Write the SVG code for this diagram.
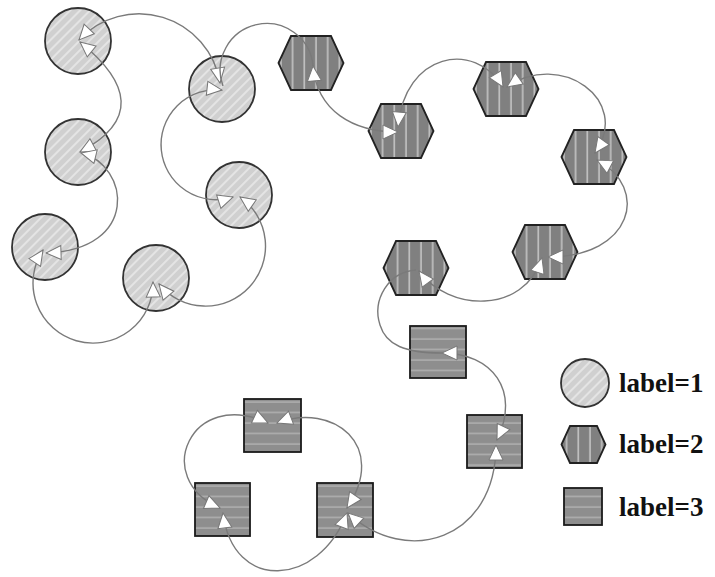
<svg xmlns="http://www.w3.org/2000/svg" width="715" height="577" viewBox="0 0 715 577">
<style>
.c{fill:url(#hatch);stroke:#333;stroke-width:1.8}
.h{fill:url(#vstripe);stroke:#222;stroke-width:1.8}
.s{fill:url(#hstripe);stroke:#1a1a1a;stroke-width:1.8}
.e{fill:none;stroke:#7a7a7a;stroke-width:1.4}
.ea{fill:none;stroke:#7a7a7a;stroke-width:1.4;marker-start:url(#ah);marker-end:url(#ah)}
.t{font-family:"Liberation Serif","Times New Roman",serif;font-weight:bold;font-size:27px;fill:#111}
</style>
<defs>
<pattern id="hatch" patternUnits="userSpaceOnUse" width="7" height="7" patternTransform="rotate(45)">
<rect width="7" height="7" fill="#d0d0d0"/><line x1="1" y1="0" x2="1" y2="7" stroke="#e4e4e4" stroke-width="2"/>
</pattern>
<pattern id="vstripe" patternUnits="userSpaceOnUse" width="11.7" height="10">
<rect width="11.7" height="10" fill="#808080"/><line x1="5" y1="0" x2="5" y2="10" stroke="#cfcfcf" stroke-width="1.4"/>
</pattern>
<pattern id="hstripe" patternUnits="userSpaceOnUse" width="10" height="10.5">
<rect width="10" height="10.5" fill="#8e8e8e"/><line x1="0" y1="3" x2="10" y2="3" stroke="#b9b9b9" stroke-width="1.2"/>
</pattern>
<polygon id="hex" points="-32.5,0 -20,-27 20,-27 32.5,0 20,27 -20,27"/>
<marker id="ah" viewBox="0 0 18 18" refX="17" refY="9" markerWidth="18" markerHeight="18" markerUnits="userSpaceOnUse" orient="auto-start-reverse">
<path d="M2,2 L17,9 L2,16 z" fill="#fff" stroke="#777" stroke-width="1"/>
</marker>
</defs>
<rect width="715" height="577" fill="#fff"/>

<g id="C1"><circle class="c" cx="78" cy="41" r="33"/></g>
<g id="C2"><circle class="c" cx="78" cy="152" r="33"/></g>
<g id="C3"><circle class="c" cx="45" cy="247" r="33"/></g>
<g id="C4"><circle class="c" cx="156" cy="278" r="33"/></g>
<g id="C5"><circle class="c" cx="222" cy="89" r="33"/></g>
<g id="C6"><circle class="c" cx="239" cy="195" r="33"/></g>

<g id="H1"><use href="#hex" class="h" transform="translate(311,63)"/></g>
<g id="H2"><use href="#hex" class="h" transform="translate(401,131)"/></g>
<g id="H3"><use href="#hex" class="h" transform="translate(506,89)"/></g>
<g id="H4"><use href="#hex" class="h" transform="translate(594,157)"/></g>
<g id="H5"><use href="#hex" class="h" transform="translate(545,252)"/></g>
<g id="H6"><use href="#hex" class="h" transform="translate(416,268)"/></g>

<g id="S1"><rect class="s" x="410" y="326" width="56" height="52"/></g>
<g id="S2"><rect class="s" x="467" y="415" width="55" height="53"/></g>
<g id="S3"><rect class="s" x="244" y="399" width="57" height="53"/></g>
<g id="S4"><rect class="s" x="195" y="483" width="55" height="53"/></g>
<g id="S5"><rect class="s" x="317" y="483" width="56" height="54"/></g>

<g id="connectors">
<path class="ea" d="M79,40 A82,82 0 0 1 220,83"/>
<path class="ea" d="M80,42 C131.3,83.5 138.3,121 80,152"/>
<path class="ea" d="M81,153 C130,165 140,250 46,253"/>
<path class="ea" d="M43,250 A60,60 0 1 0 153,282"/>
<path class="ea" d="M159,284 A60,60 0 1 0 240,197"/>
<path class="ea" d="M222,90 A55,55 0 1 0 233,197"/>
<path class="e" d="M223,86 A46.5,46.5 0 1 1 313,66"/>
<path class="ea" d="M313,66 C317,111 353,132 398,132"/>
<path class="ea" d="M398,127 C404.5,52.3 474.7,39.9 503,87"/>
<path class="ea" d="M507,87 C560,49.7 632.3,99.8 595,153"/>
<path class="ea" d="M597,160 C650,188.1 633,257 548,257"/>
<path class="ea" d="M542,258 C523.5,315 448.4,311.5 419,271"/>
<path class="e" d="M416,270 C388,272 372,300 380,325 C386,345 405,353 442,353"/>
<path class="ea" d="M442,353 C492,353 521,390.6 497,440"/>
<path class="ea" d="M496,445 C496,540 406.5,567.6 348,513"/>
<path class="ea" d="M277,423 C333,401.5 388.9,445.8 347,508"/>
<path class="ea" d="M268,423 C191,387 150.9,478.7 220,508"/>
<path class="ea" d="M223,513 C232.8,592.4 318.4,587.7 347,513"/>
</g>

<g id="legend">
<circle class="c" cx="585" cy="383" r="24"/>
<polygon class="h" points="561.5,444.5 570,426 597,426 605.5,444.5 597,463 570,463"/>
<rect class="s" x="564" y="488" width="38" height="37"/>
<text class="t" x="619" y="392">label=1</text>
<text class="t" x="619" y="453">label=2</text>
<text class="t" x="619" y="516">label=3</text>
</g>
</svg>
